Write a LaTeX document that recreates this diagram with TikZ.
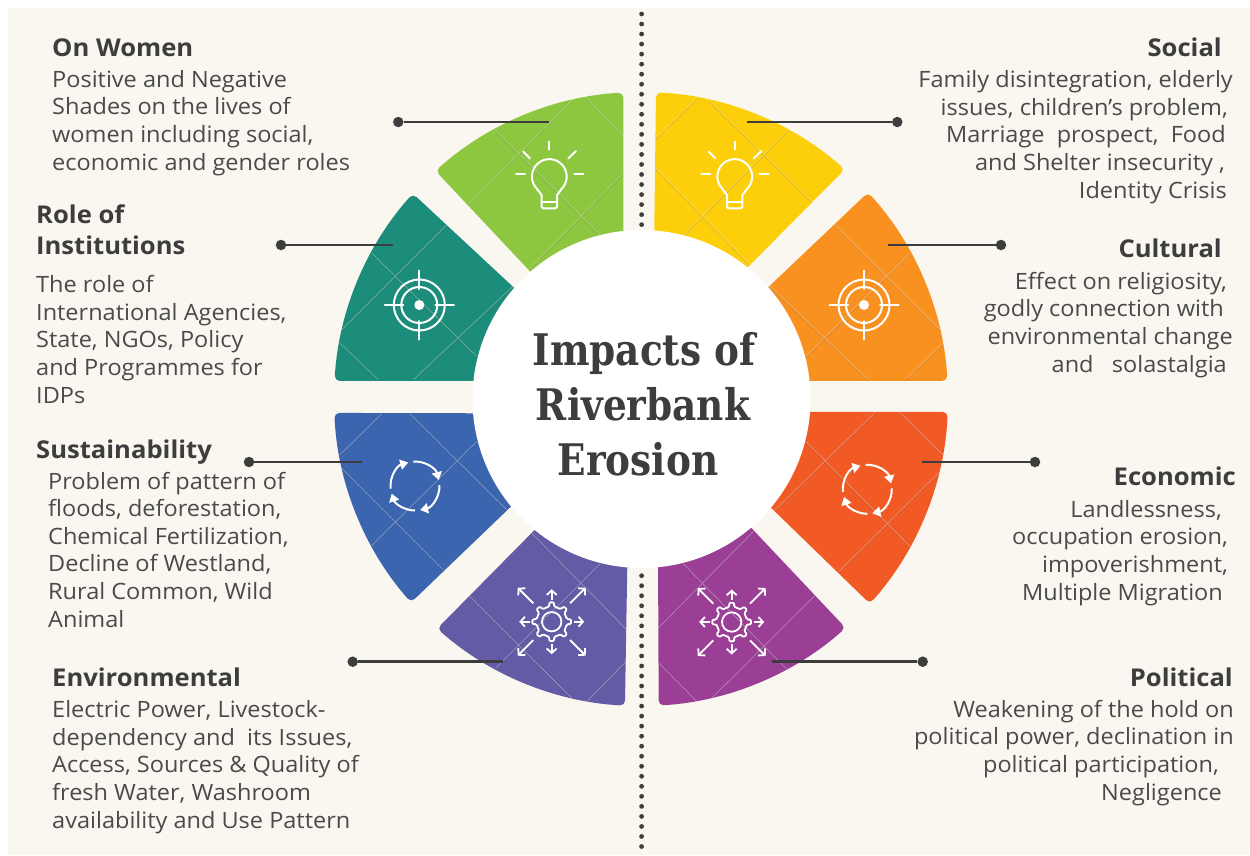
\documentclass[tikz,border=0pt]{standalone}
\usepackage{fontspec}
\usetikzlibrary{arrows.meta}
\setmainfont[FakeStretch=1.045]{Open Sans}
\newfontfamily\titlefont[FakeStretch=0.86]{DejaVu Serif}
\definecolor{cream}{HTML}{FAF7F0}
\definecolor{ink}{HTML}{4A4A4A}
\definecolor{dark}{HTML}{3D3D3D}
\definecolor{cgreen}{HTML}{8DC63F}
\definecolor{cteal}{HTML}{1C8D7A}
\definecolor{cblue}{HTML}{3C65AF}
\definecolor{cviolet}{HTML}{635BA5}
\definecolor{cyellow}{HTML}{FCCF0A}
\definecolor{corange}{HTML}{F99120}
\definecolor{cred}{HTML}{F15A24}
\definecolor{cmagenta}{HTML}{9B3F96}
\tikzset{
  heading/.style={inner sep=0pt,text=dark,font=\fontsize{24.5}{31}\selectfont\bfseries},
  bodyl/.style={inner sep=0pt,text=ink,align=left,anchor=base west,font=\fontsize{22.5}{27.6}\selectfont},
  bodyr/.style={inner sep=0pt,text=ink,align=right,anchor=base east,font=\fontsize{22.5}{27.6}\selectfont},
  dotend/.style={circle,fill=dark,inner sep=0pt,minimum size=10.5pt},
  leader/.style={draw=dark,line width=2.5pt},
  icon/.style={draw=white,line width=2pt,line cap=round,line join=round},
  gridlight/.style={draw=white,opacity=.32,line width=.9pt},
  gridshade/.style={draw=black,opacity=.14,line width=.9pt},
}
\newcommand\sector[6]{%
  \fill[#1,rounded corners=5pt] ([shift={(#2:307)}]641,399) arc[start angle=#2,end angle=#3,radius=307] -- #4 -- #5 -- cycle;
  \begin{scope}
    \clip[rounded corners=5pt] ([shift={(#2:307)}]641,399) arc[start angle=#2,end angle=#3,radius=307] -- #4 -- #5 -- cycle;
    \path[gridshade,yshift=-.8pt] #6;
    \path[gridlight] #6;
  \end{scope}}
\newcommand\bulb[2]{%
  \begin{scope}[shift={(#1,#2)},icon]
    \draw (-7.7,18.3) -- (-12.7,11.7) arc[start angle=137,end angle=403,radius=17.4] -- (7.7,18.3);
    \draw[rounded corners=1.5pt] (-7.7,18.3) -- (-7.7,31.7) -- (7.7,31.7) -- (7.7,18.3);
    \draw (-7.7,25) -- (7.7,25);
    \draw (0,-35) -- (0,-27);
    \draw (19,-18.3) -- (26.7,-25.7);
    \draw (-26,-25) -- (-19.3,-18.3);
    \draw (-33.3,-2.7) -- (-24.3,-2.7);
    \draw (25,-2.7) -- (34,-2.7);
  \end{scope}}
\newcommand\target[2]{%
  \begin{scope}[shift={(#1,#2)},icon]
    \draw (0,0) circle[radius=25.5];
    \draw (0,0) circle[radius=18];
    \fill[white] (0,0) circle[radius=5];
    \draw (-34.5,0) -- (-16,0) (16,0) -- (34.5,0) (0,-34.5) -- (0,-16) (0,16) -- (0,34.5);
  \end{scope}}
\newcommand\cyc[2]{%
  \begin{scope}[shift={(#1,#2)},icon,line cap=butt]
    \foreach \s/\e in {266/346,358/438,90/162,174/254}
      \draw[-{Triangle[width=10pt,length=8pt]}] (\s:24.5) arc[start angle=\s,end angle=\e,radius=24.5];
  \end{scope}}
\newcommand\gear[2]{%
  \begin{scope}[shift={(#1,#2)},icon,line width=1.8pt]
    \draw (0,0) circle[radius=9.7];
    \draw[rounded corners=1.2pt] (-9:15.5)
      \foreach \k in {0,45,...,315} { -- ({\k-9}:15.5) -- ({\k-7}:19.5) -- ({\k+7}:19.5) -- ({\k+9}:15.5) } -- cycle;
    \begin{scope}[line cap=butt,-{Straight Barb[length=4.5pt,width=10pt]}]
      \foreach \a in {0,90,180,270} \draw (\a:22) -- (\a:32.5);
      \foreach \a in {45,135,225,315} \draw (\a:26) -- (\a:48);
    \end{scope}
  \end{scope}}
\begin{document}
\begin{tikzpicture}[x=1pt,y=-1pt]
\useasboundingbox (0,0) rectangle (1250,855);
\fill[white] (0,0) rectangle (1250,855);
\fill[cream] (8,8) rectangle (1250,855);
% dotted axis
\draw[dark,line width=4.8pt,line cap=round,dash pattern=on 0pt off 10.03pt] (641.6,14) -- (641.6,855);
% sectors
\sector{cyellow}{272.8}{311.6}{(738,277)}{(654,250)}{(656,138.3)--(698.3,96.7) (684,235)--(788.3,130) (656,168.3)--(750,265) (708.3,100)--(811.7,201.7)}
\sector{corange}{317.7}{356.6}{(790,381)}{(759,296)}{(805.7,356.7)--(910,253.3) (905,380)--(942.7,343.3) (835,225)--(940,330) (770,286)--(868.3,380)}
\sector{cred}{2.4}{41.8}{(760,497)}{(790,412)}{(775,510)--(875,412.7) (839,571.7)--(940,471.7) (806,441.7)--(910,546.7) (900,412.7)--(942.7,455)}
\sector{cmagenta}{48.2}{86.7}{(658,548)}{(741,517)}{(658.3,628.3)--(753.3,531.7) (711.7,698.3)--(815,595.7) (683.3,564)--(786.7,669.3) (658.3,662.7)--(696.7,701.7)}
\sector{cviolet}{93}{131.6}{(545,519.5)}{(627.6,548)}{(495.7,668.3)--(600,564) (586.7,701.7)--(626,661.7) (470,596.7)--(571.7,698.3) (531.7,533.3)--(626,629.3)}
\sector{cblue}{138.5}{177.4}{(490,413.3)}{(522,496)}{(340,455)--(381.7,414) (371.7,545.7)--(476.7,441.7) (340,466.7)--(443.3,570) (410,414)--(506.7,510)}
\sector{cteal}{183.4}{222}{(524,297)}{(490,381)}{(341.7,330)--(446.7,225) (413.3,380)--(512.7,286.7) (371.7,253.3)--(476.7,356.7) (340,343.3)--(378.3,380)}
\sector{cgreen}{228}{266.7}{(623.3,250)}{(540,282)}{(468.3,205)--(573.3,99.3) (528.3,270)--(623.3,173.3) (495,130)--(600,235) (585,96.7)--(623.3,136.7)}
% hub
\node[circle,fill=white,inner sep=0pt,minimum size=338pt] (hub) at (641.5,399) {};
\node[inner sep=0pt,text=dark,align=center,anchor=base,font=\fontsize{43.5}{55}\titlefont\bfseries] (title) at (641,475) {\hspace*{6pt}Impacts of\\\hspace*{4pt}Riverbank\\Erosion\hspace*{6pt}};
% icons
\bulb{549.3}{176.7}
\bulb{734.7}{176.7}
\target{419.3}{305}
\target{864}{305}
\cyc{415}{486}
\cyc{867.3}{489.3}
\gear{551.7}{621.7}
\gear{731.7}{622}
% leaders
\node[dotend] (dgreen) at (398.3,122) {};  \coordinate (egreen) at (549,122);  \draw[leader] (dgreen) -- (egreen);
\node[dotend] (dteal) at (281,245) {};     \coordinate (eteal) at (393.3,245); \draw[leader] (dteal) -- (eteal);
\node[dotend] (dblue) at (249,462) {};     \coordinate (eblue) at (361.7,462); \draw[leader] (dblue) -- (eblue);
\node[dotend] (dviolet) at (352.7,661.7) {}; \coordinate (eviolet) at (502.7,661.7); \draw[leader] (dviolet) -- (eviolet);
\node[dotend] (dyellow) at (897.3,122) {}; \coordinate (eyellow) at (747.3,122); \draw[leader] (dyellow) -- (eyellow);
\node[dotend] (dorange) at (1001,245) {};  \coordinate (eorange) at (887.7,245); \draw[leader] (dorange) -- (eorange);
\node[dotend] (dred) at (1035,462) {};     \coordinate (ered) at (921.7,462);  \draw[leader] (dred) -- (ered);
\node[dotend] (dmagenta) at (922.7,661.7) {}; \coordinate (emagenta) at (772.3,661.7); \draw[leader] (dmagenta) -- (emagenta);
% left texts
\node[heading,anchor=base west] (h1) at (52,56) {On Women};
\node[bodyl] (b1) at (52,170) {Positive and Negative\\Shades on the lives of\\women including social,\\economic and gender roles};
\node[heading,anchor=base west,align=left] (h2) at (36,254) {Role of\\Institutions};
\node[bodyl] (b2) at (36,403) {The role of\\International Agencies,\\State, NGOs, Policy\\and Programmes for\\IDPs};
\node[heading,anchor=base west] (h3) at (36,458) {Sustainability};
\node[bodyl] (b3) at (48,627) {Problem of pattern of\\floods, deforestation,\\Chemical Fertilization,\\Decline of Westland,\\Rural Common, Wild\\Animal};
\node[heading,anchor=base west] (h4) at (52,686) {Environmental};
\node[bodyl] (b4) at (52,828) {Electric Power, Livestock-\\dependency and\ \ its Issues,\\Access, Sources \& Quality of\\fresh Water, Washroom\\availability and Use Pattern};
% right texts
\node[heading,anchor=base east] (h5) at (1222,56) {Social};
\node[bodyr] (b5) at (1233,198) {Family disintegration, elderly\\issues, children's problem,\rule{5pt}{0pt}\\Marriage\ \ prospect,\ \ Food\rule{7pt}{0pt}\\and Shelter insecurity ,\rule{8pt}{0pt}\\Identity Crisis\rule{6pt}{0pt}};
\node[heading,anchor=base east] (h6) at (1222,257) {Cultural};
\node[bodyr] (b6) at (1233,372) {Effect on religiosity,\rule{6pt}{0pt}\\godly connection with\rule{9pt}{0pt}\\environmental change\\and\ \ \ solastalgia\rule{6pt}{0pt}};
\node[heading,anchor=base east] (h7) at (1236,485) {Economic};
\node[bodyr] (b7) at (1228,600) {Landlessness,\rule{6pt}{0pt}\\occupation erosion,\\impoverishment,\\Multiple Migration\rule{5pt}{0pt}};
\node[heading,anchor=base east] (h8) at (1233,686) {Political};
\node[bodyr] (b8) at (1234,800) {Weakening of the hold on\\political power, declination in\\political participation,\rule{15pt}{0pt}\\Negligence\rule{12pt}{0pt}};
\end{tikzpicture}
\end{document}
